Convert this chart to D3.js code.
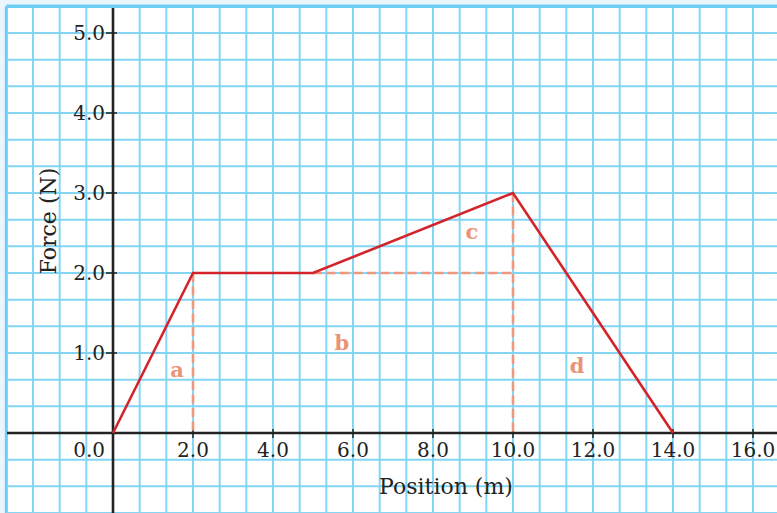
<!DOCTYPE html>
<html>
<head>
<meta charset="utf-8">
<script src="https://cdn.jsdelivr.net/npm/d3@7"></script>
<style>
  body { margin: 0; background: #fff; }
  svg { display: block; }
  text { font-family: "DejaVu Serif", "Liberation Serif", serif; fill: #222; }
</style>
</head>
<body>
<svg width="777" height="513"></svg>
<script>
// force vs position data
var positions = [0, 2, 5, 10, 14];
var forces = [0, 2, 2, 3, 0];

var xTicks = [0, 2, 4, 6, 8, 10, 12, 14, 16];
var yTicks = [1, 2, 3, 4, 5];

// area labels (a, b, c, d) placed in data units
var areaNames = ["a", "b", "c", "d"];
var areaX = [1.6, 5.72, 8.97, 11.6];
var areaY = [0.7, 1.04, 2.42, 0.75];

var svg = d3.select("svg"),
  width = +svg.attr("width"),
  height = +svg.attr("height");

var x = d3.scaleLinear().domain([0, 16]).range([113, 753]);
var y = d3.scaleLinear().domain([0, 5]).range([433, 33]);

// light strip round the sheet
svg.append("rect").attr("width", width).attr("height", height).attr("fill", "#eaf6fc");
svg.append("rect")
  .attr("x", x(-8 / 3)).attr("y", y(16 / 3))
  .attr("width", width).attr("height", height)
  .attr("fill", "#fff");

// grid: cells of 2/3 m by 1/3 N
var vLines = d3.range(-4, 26).map(function (k) { return (k * 2) / 3; });
var hLines = d3.range(-3, 17).map(function (j) { return j / 3; });

var grid = svg.append("g").attr("class", "grid");
grid.selectAll("line.v")
  .data(vLines)
  .enter()
  .append("line")
  .attr("class", "v")
  .attr("x1", function (d) { return x(d); })
  .attr("x2", function (d) { return x(d); })
  .attr("y1", y(16 / 3))
  .attr("y2", height)
  .attr("stroke", function (d, i) { return i === 0 ? "#6ccdf3" : "#84d4f3"; })
  .attr("stroke-width", function (d, i) { return i === 0 ? 3 : 2; });

grid.selectAll("line.h")
  .data(hLines)
  .enter()
  .append("line")
  .attr("class", "h")
  .attr("y1", function (d) { return y(d); })
  .attr("y2", function (d) { return y(d); })
  .attr("x1", x(-8 / 3))
  .attr("x2", width)
  .attr("stroke", function (d, i) { return i === hLines.length - 1 ? "#6ccdf3" : "#84d4f3"; })
  .attr("stroke-width", function (d, i) { return i === hLines.length - 1 ? 3.5 : 2; });

// main axes
svg.append("line")
  .attr("x1", x(0)).attr("x2", x(0))
  .attr("y1", 8).attr("y2", height)
  .attr("stroke", "#222").attr("stroke-width", 2.6);
svg.append("line")
  .attr("x1", 7).attr("x2", width)
  .attr("y1", y(0)).attr("y2", y(0))
  .attr("stroke", "#222").attr("stroke-width", 2.6);

// y ticks + labels
var yAxis = svg.append("g");
yAxis.selectAll("line")
  .data(yTicks)
  .enter()
  .append("line")
  .attr("x1", x(0) - 7).attr("x2", x(0) + 4)
  .attr("y1", function (d) { return y(d); })
  .attr("y2", function (d) { return y(d); })
  .attr("stroke", "#222").attr("stroke-width", 1.5);
yAxis.selectAll("text")
  .data(yTicks)
  .enter()
  .append("text")
  .attr("x", x(0) - 8)
  .attr("y", function (d) { return y(d) + 7; })
  .attr("text-anchor", "end")
  .attr("font-size", 20)
  .text(function (d) { return d.toFixed(1); });

// x ticks + labels
var xAxis = svg.append("g");
xAxis.selectAll("line")
  .data(xTicks.filter(function (d) { return d > 0; }))
  .enter()
  .append("line")
  .attr("x1", function (d) { return x(d); })
  .attr("x2", function (d) { return x(d); })
  .attr("y1", y(0) - 4).attr("y2", y(0) + 5)
  .attr("stroke", "#222").attr("stroke-width", 1.5);
xAxis.selectAll("text")
  .data(xTicks)
  .enter()
  .append("text")
  .attr("x", function (d) { return d === 0 ? x(0) - 8 : x(d); })
  .attr("y", y(0) + 24)
  .attr("text-anchor", function (d) { return d === 0 ? "end" : "middle"; })
  .attr("font-size", 20)
  .text(function (d) { return d.toFixed(1); });

// axis titles
svg.append("text")
  .attr("x", 446).attr("y", 494)
  .attr("text-anchor", "middle")
  .attr("font-size", 22)
  .text("Position (m)");
svg.append("text")
  .attr("transform", "translate(56,221) rotate(-90)")
  .attr("text-anchor", "middle")
  .attr("font-size", 22)
  .text("Force (N)");

// dashed guides splitting the area
var pts = positions.map(function (p, i) { return [p, forces[i]]; });
var guides = [
  [pts[1], [pts[1][0], 0]],
  [pts[2], [pts[3][0], pts[2][1]]],
  [pts[3], [pts[3][0], 0]]
];
svg.append("g")
  .selectAll("line")
  .data(guides)
  .enter()
  .append("line")
  .attr("x1", function (d) { return x(d[0][0]); })
  .attr("y1", function (d) { return y(d[0][1]); })
  .attr("x2", function (d) { return x(d[1][0]); })
  .attr("y2", function (d) { return y(d[1][1]); })
  .attr("stroke", "#f0987d")
  .attr("stroke-width", 2.6)
  .attr("stroke-dasharray", "9,4.5");

// force curve
var line = d3.line()
  .x(function (d) { return x(d[0]); })
  .y(function (d) { return y(d[1]); });
svg.append("path")
  .datum(pts)
  .attr("d", line)
  .attr("fill", "none")
  .attr("stroke", "#d4242b")
  .attr("stroke-width", 2.6)
  .attr("stroke-linejoin", "miter");

// area names
svg.append("g")
  .selectAll("text")
  .data(areaNames)
  .enter()
  .append("text")
  .attr("x", function (d, i) { return x(areaX[i]); })
  .attr("y", function (d, i) { return y(areaY[i]); })
  .attr("text-anchor", "middle")
  .attr("font-size", 21)
  .attr("font-weight", "bold")
  .style("fill", "#ea9379")
  .text(function (d) { return d; });
</script>
</body>
</html>
